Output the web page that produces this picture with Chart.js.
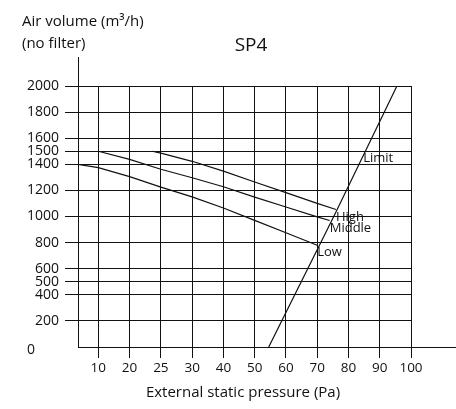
<!DOCTYPE html>
<html>
<head>
<meta charset="utf-8">
<script src="https://cdn.jsdelivr.net/npm/chart.js@4.4.1/dist/chart.umd.min.js"></script>
<style>
  body { margin: 0; background: #fff; }
  canvas { display: block; }
</style>
</head>
<body>
<canvas id="myChart" width="456" height="409"></canvas>
<script>
// x axis ticks are evenly spaced on the sheet, but their values are not
var pressureTicks = [10, 20, 25, 30, 40, 50, 60, 70, 80, 90, 100];
var volumeTicks = [0, 200, 400, 500, 600, 800, 1000, 1200, 1400, 1500, 1600, 1800, 2000];

var curveNames = ["High", "Middle", "Low", "Limit"];

var highPa = [23.6, 25, 30, 40, 50, 60, 70, 76];
var highVolume = [1500, 1485, 1423, 1348, 1264, 1183, 1101, 1054];

var middlePa = [10, 20, 25, 30, 40, 50, 60, 70, 74];
var middleVolume = [1500, 1438, 1362, 1297, 1228, 1149, 1073, 997, 969];

var lowPa = [3.5, 10, 20, 25, 30, 40, 50, 60, 70];
var lowVolume = [1400, 1375, 1305, 1225, 1150, 1065, 970, 875, 780];

var limitPa = [54.5, 75.3, 95.5];
var limitVolume = [0, 1000, 2000];

var FONT = "'Open Sans', 'DejaVu Sans', sans-serif";
var INK = "#111";

// pressure (Pa) -> position on the evenly spaced tick axis
function paToPos(p) {
  var t = pressureTicks;
  if (p <= t[0]) return (p - t[0]) / (t[1] - t[0]);
  for (var i = 1; i < t.length; i++) {
    if (p <= t[i]) return i - 1 + (p - t[i - 1]) / (t[i] - t[i - 1]);
  }
  var n = t.length - 1;
  return n + (p - t[n]) / (t[n] - t[n - 1]);
}

function points(pa, vol) {
  return pa.map(function (p, i) { return { x: paToPos(p), y: vol[i] }; });
}

function curve(label, pa, vol) {
  return {
    label: label,
    data: points(pa, vol),
    showLine: true,
    borderColor: INK,
    borderWidth: 1.2,
    pointRadius: 0,
    tension: 0,
    fill: false
  };
}

var textPlugin = {
  id: "texts",
  afterDraw: function (chart) {
    var c = chart.ctx, a = chart.chartArea;
    var xs = chart.scales.x, ys = chart.scales.y;
    c.save();

    // axis lines running past the grid
    var ax = Math.round(a.left) + 0.5, ay = Math.round(a.bottom) + 0.5;
    c.strokeStyle = INK;
    c.lineWidth = 1;
    c.beginPath();
    c.moveTo(ax, 57);
    c.lineTo(ax, a.top);
    c.moveTo(a.right, ay);
    c.lineTo(chart.width, ay);
    c.stroke();

    c.fillStyle = INK;
    c.textBaseline = "middle";
    c.textAlign = "left";
    c.font = "15px " + FONT;
    c.fillText("Air volume (m\u00b3/h)", 22, 22);
    c.fillText("(no filter)", 22, 44);

    c.textAlign = "center";
    c.font = "19px " + FONT;
    c.fillText("SP4", 251, 46);

    c.font = "15px " + FONT;
    c.fillText("External static pressure (Pa)", 243, 393);

    c.font = "14px " + FONT;
    c.fillText("0", 31, 350);

    // curve names at the end of each fan speed curve
    c.font = "13px " + FONT;
    c.textAlign = "left";
    c.textBaseline = "top";
    chart.data.datasets.forEach(function (ds) {
      var px, py;
      if (ds.label === "Limit") {
        var v = 1450, d = ds.data;
        for (var i = 1; i < d.length; i++) {
          if (v <= d[i].y) {
            var f = (v - d[i - 1].y) / (d[i].y - d[i - 1].y);
            px = xs.getPixelForValue(d[i - 1].x + f * (d[i].x - d[i - 1].x)) + 1;
            py = ys.getPixelForValue(v) - 6;
            break;
          }
        }
      } else {
        var last = ds.data[ds.data.length - 1];
        px = xs.getPixelForValue(last.x);
        py = ys.getPixelForValue(last.y) + 1;
      }
      c.fillText(ds.label, px, py);
    });
    c.restore();
  }
};

var ctx = document.getElementById("myChart").getContext("2d");
var myChart = new Chart(ctx, {
  type: "scatter",
  data: {
    datasets: [
      curve(curveNames[0], highPa, highVolume),
      curve(curveNames[1], middlePa, middleVolume),
      curve(curveNames[2], lowPa, lowVolume),
      curve(curveNames[3], limitPa, limitVolume)
    ]
  },
  options: {
    responsive: false,
    animation: false,
    devicePixelRatio: 1,
    layout: { padding: { top: 86, right: 45, left: 0, bottom: 0 } },
    plugins: {
      legend: { display: false },
      tooltip: { enabled: false },
      title: { display: false }
    },
    scales: {
      x: {
        type: "linear",
        min: -0.65,
        max: pressureTicks.length - 1,
        afterBuildTicks: function (s) {
          s.ticks = pressureTicks.map(function (p, i) { return { value: i }; });
        },
        afterFit: function (s) { s.height = 62; },
        grid: { color: INK, lineWidth: 1, tickLength: 11 },
        border: { color: INK, width: 1 },
        ticks: {
          autoSkip: false,
          maxRotation: 0,
          padding: 2,
          color: INK,
          font: { family: FONT, size: 13.5 },
          callback: function (v) { return pressureTicks[v]; }
        }
      },
      y: {
        type: "linear",
        min: 0,
        max: 2000,
        afterBuildTicks: function (s) {
          s.ticks = volumeTicks.map(function (v) { return { value: v }; });
        },
        afterFit: function (s) { s.width = 78; },
        grid: {
          color: function (c) { return c.tick && c.tick.value === 0 ? "rgba(0,0,0,0)" : INK; },
          lineWidth: 1,
          tickLength: 13
        },
        border: { color: INK, width: 1 },
        ticks: {
          autoSkip: false,
          padding: 6,
          color: INK,
          font: { family: FONT, size: 14 },
          callback: function (v) { return v === 0 ? "" : v; }
        }
      }
    }
  },
  plugins: [textPlugin]
});
</script>
</body>
</html>
